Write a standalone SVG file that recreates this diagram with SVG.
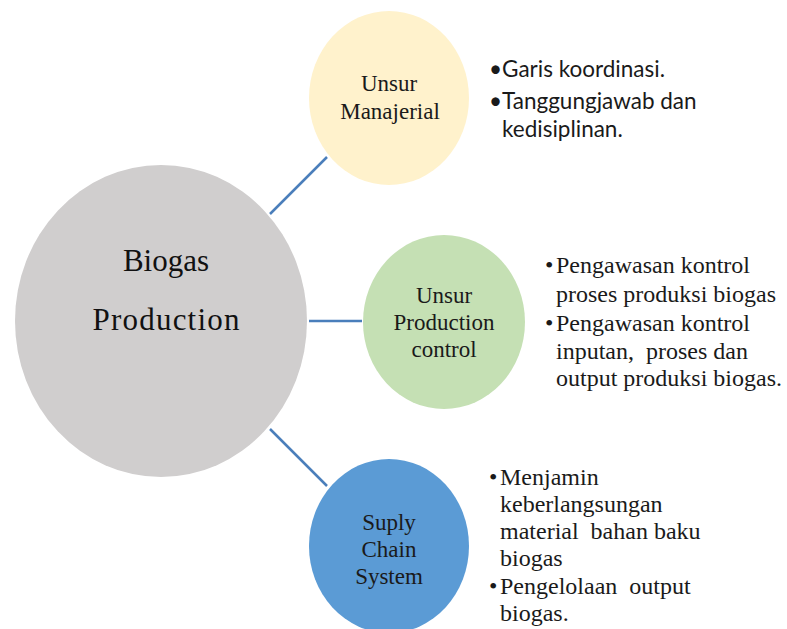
<svg xmlns="http://www.w3.org/2000/svg" width="787" height="629" viewBox="0 0 787 629">
<style>
.conn{stroke:#4a7ebb;stroke-width:2.5;fill:none}
.lbl{font-family:"Liberation Serif","Times New Roman",serif;font-size:23px;fill:#1a1a1a;text-anchor:middle}
.big{font-family:"Liberation Serif","Times New Roman",serif;font-size:31px;fill:#111;text-anchor:middle}
.sans{font-family:Lato,"Noto Sans",sans-serif;font-size:22.5px;fill:#1a1a1a}
.ser{font-family:"Liberation Serif","Times New Roman",serif;font-size:24px;fill:#1a1a1a;white-space:pre}
</style>
<rect width="787" height="629" fill="#ffffff"/>
<g id="connectors">
<line class="conn" x1="270" y1="214" x2="327" y2="157"/>
<line class="conn" x1="309" y1="321" x2="362" y2="321" stroke-width="3"/>
<line class="conn" x1="270" y1="429" x2="327" y2="486"/>
</g>
<g id="biogas-production">
<ellipse cx="161" cy="321" rx="146" ry="156" fill="#d0cece"/>
<text class="big" x="166" y="271">Biogas</text>
<text class="big" x="166" y="330" textLength="147">Production</text>
</g>
<g id="unsur-manajerial">
<ellipse cx="389" cy="98" rx="80" ry="87" fill="#fff2cc"/>
<text class="lbl" x="389" y="91">Unsur</text>
<text class="lbl" x="390" y="119">Manajerial</text>
</g>
<g id="unsur-production-control">
<ellipse cx="444" cy="322" rx="81" ry="87" fill="#c5e0b4"/>
<text class="lbl" x="444" y="303">Unsur</text>
<text class="lbl" x="444" y="330">Production</text>
<text class="lbl" x="444" y="357">control</text>
</g>
<g id="suply-chain-system">
<ellipse cx="389" cy="546" rx="80" ry="87" fill="#5b9bd5"/>
<text class="lbl" x="389" y="530">Suply</text>
<text class="lbl" x="389" y="557">Chain</text>
<text class="lbl" x="389" y="584">System</text>
</g>
<g id="notes-manajerial">
<text class="sans" x="489" y="77">•Garis koordinasi.</text>
<text class="sans" x="489" y="109">•Tanggungjawab dan</text>
<text class="sans" x="502" y="137">kedisiplinan.</text>
</g>
<g id="notes-production-control">
<text class="ser" x="545" y="273">•</text>
<text class="ser" x="556" y="273">Pengawasan kontrol</text>
<text class="ser" x="556" y="302">proses produksi biogas</text>
<text class="ser" x="545" y="331">•</text>
<text class="ser" x="556" y="331">Pengawasan kontrol</text>
<text class="ser" x="556" y="359">inputan,  proses dan</text>
<text class="ser" x="556" y="386">output produksi biogas.</text>
</g>
<g id="notes-supply-chain">
<text class="ser" x="489" y="485">•</text>
<text class="ser" x="500" y="485">Menjamin</text>
<text class="ser" x="500" y="512">keberlangsungan</text>
<text class="ser" x="500" y="539">material  bahan baku</text>
<text class="ser" x="500" y="566">biogas</text>
<text class="ser" x="489" y="594">•</text>
<text class="ser" x="500" y="594">Pengelolaan  output</text>
<text class="ser" x="500" y="621">biogas.</text>
</g>
</svg>
